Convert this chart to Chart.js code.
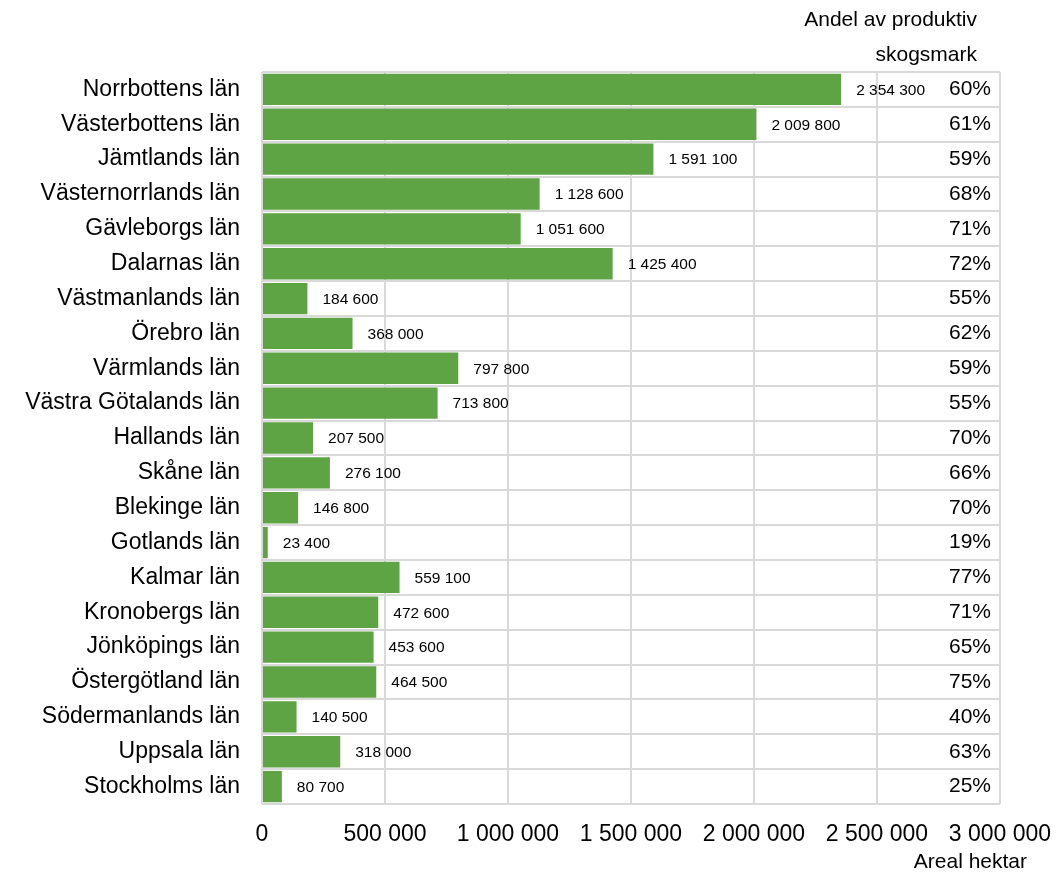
<!DOCTYPE html>
<html lang="sv">
<head>
<meta charset="UTF-8">
<title>Areal hektar per län</title>
<script src="https://cdn.jsdelivr.net/npm/chart.js"></script>
<style>
body { margin: 0; background: #fff; font-family: "Liberation Sans", Arial, sans-serif; }
#wrap { width: 1064px; height: 874px; }
</style>
</head>
<body>
<div id="wrap"><canvas id="chart"></canvas></div>
<script>
// data
const lan = ['Norrbottens län', 'Västerbottens län', 'Jämtlands län', 'Västernorrlands län',
  'Gävleborgs län', 'Dalarnas län', 'Västmanlands län', 'Örebro län', 'Värmlands län',
  'Västra Götalands län', 'Hallands län', 'Skåne län', 'Blekinge län', 'Gotlands län',
  'Kalmar län', 'Kronobergs län', 'Jönköpings län', 'Östergötland län',
  'Södermanlands län', 'Uppsala län', 'Stockholms län'];
const arealHektar = [2354300, 2009800, 1591100, 1128600, 1051600, 1425400, 184600, 368000,
  797800, 713800, 207500, 276100, 146800, 23400, 559100, 472600, 453600, 464500,
  140500, 318000, 80700];
const andelProduktiv = [60, 61, 59, 68, 71, 72, 55, 62, 59, 55, 70, 66, 70, 19, 77, 71,
  65, 75, 40, 63, 25];
const xTicks = [0, 500000, 1000000, 1500000, 2000000, 2500000, 3000000];

const FONT = '"Liberation Sans", Arial, sans-serif';

function fmt(n) {
  return String(n).replace(/\B(?=(\d{3})+(?!\d))/g, ' ');
}

// draws value labels, the percent column and the two titles
const labelPlugin = {
  id: 'labels',
  afterDatasetsDraw(chart) {
    const ctx = chart.ctx;
    const meta = chart.getDatasetMeta(0);
    const area = chart.chartArea;
    ctx.save();
    ctx.fillStyle = '#000';
    ctx.textBaseline = 'middle';
    meta.data.forEach((bar, i) => {
      ctx.font = '15.5px ' + FONT;
      ctx.textAlign = 'left';
      ctx.fillText(fmt(arealHektar[i]), bar.x + 15, bar.y + 1);
      ctx.font = '21px ' + FONT;
      ctx.textAlign = 'right';
      ctx.fillText(andelProduktiv[i] + '%', area.right - 9, bar.y);
    });
    ctx.font = '21px ' + FONT;
    ctx.textAlign = 'right';
    ctx.fillText('Andel av produktiv', 977, 20);
    ctx.fillText('skogsmark', 977, 55);
    ctx.fillText('Areal hektar', 1027, 862);
    ctx.restore();
  }
};

new Chart(document.getElementById('chart'), {
  type: 'bar',
  data: {
    labels: lan,
    datasets: [{
      data: arealHektar,
      backgroundColor: '#5fa444',
      borderWidth: 0,
      barPercentage: 0.9,
      categoryPercentage: 1
    }]
  },
  options: {
    indexAxis: 'y',
    responsive: true,
    maintainAspectRatio: false,
    animation: false,
    layout: { padding: { top: 72, right: 64, left: 0, bottom: 0 } },
    plugins: { legend: { display: false }, tooltip: { enabled: false } },
    scales: {
      x: {
        min: 0,
        max: 3000000,
        afterBuildTicks(scale) { scale.ticks = xTicks.map(v => ({ value: v })); },
        afterFit(scale) {
          scale.height = 70;
          scale.paddingLeft = 0;
          scale.paddingRight = 0;
        },
        grid: { color: '#d9d9d9', lineWidth: 2, drawTicks: false },
        border: { display: false },
        ticks: {
          color: '#000',
          padding: 17,
          maxRotation: 0,
          font: { family: FONT, size: 23 },
          callback: v => fmt(v)
        }
      },
      y: {
        afterFit(scale) { scale.width = 262; },
        grid: { color: '#d9d9d9', lineWidth: 2, drawTicks: false, offset: true },
        border: { display: false },
        ticks: {
          color: '#000',
          padding: 22,
          autoSkip: false,
          font: { family: FONT, size: 23 }
        }
      }
    }
  },
  plugins: [labelPlugin]
});
</script>
</body>
</html>
